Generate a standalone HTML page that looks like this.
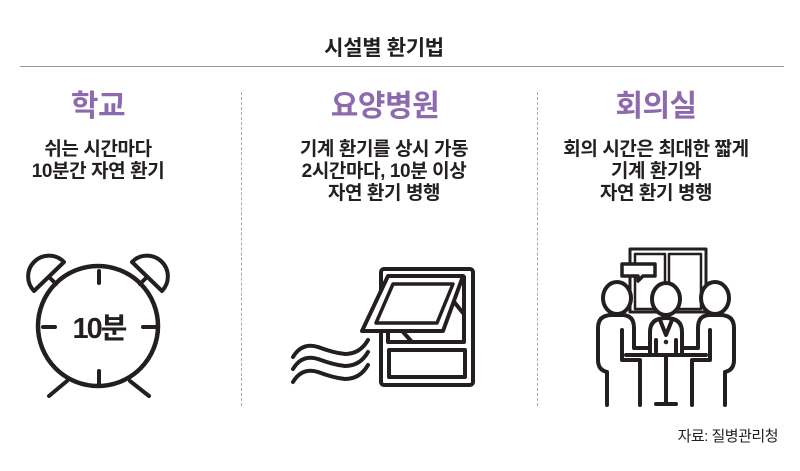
<!DOCTYPE html>
<html><head><meta charset="utf-8"><style>
body{margin:0;width:800px;height:471px;background:#fff;position:relative;overflow:hidden;font-family:"Liberation Sans","Noto Sans CJK KR",sans-serif;color:#231f20}
.t{position:absolute;text-align:center;white-space:nowrap;transform:translateX(-50%)}
.h{font-size:30px;font-weight:bold;color:#8d6aae;letter-spacing:-0.5px;line-height:32px}
.b{font-size:19px;font-weight:bold;line-height:22px;letter-spacing:-0.4px}
</style></head><body>
<div class="t" style="left:384px;top:32px;font-size:21px;font-weight:bold;letter-spacing:-0.3px">시설별 환기법</div>
<div style="position:absolute;left:20px;top:66px;width:764px;height:1px;background:#999"></div>
<div style="position:absolute;left:241px;top:92px;height:314px;border-left:1px dashed #aaa"></div>
<div style="position:absolute;left:537px;top:92px;height:314px;border-left:1px dashed #aaa"></div>
<div class="t h" style="left:98px;top:91px">학교</div>
<div class="t h" style="left:385px;top:91px">요양병원</div>
<div class="t h" style="left:656px;top:91px">회의실</div>
<div class="t b" style="left:98px;top:139px">쉬는 시간마다<br>10분간 자연 환기</div>
<div class="t b" style="left:384px;top:139px">기계 환기를 상시 가동<br>2시간마다, 10분 이상<br>자연 환기 병행</div>
<div class="t b" style="left:656px;top:139px">회의 시간은 최대한 짧게<br>기계 환기와<br>자연 환기 병행</div>
<div style="position:absolute;right:22px;top:425px;font-size:15px;letter-spacing:-0.5px">자료: 질병관리청</div>
<svg width="800" height="471" style="position:absolute;left:0;top:0" fill="none" stroke="#231f20" stroke-width="4" stroke-linecap="round" stroke-linejoin="round">
<circle cx="98" cy="326" r="60" stroke-width="4.5"/>
<path d="M34 291 A20 20 0 0 1 64 262 Z"/>
<path d="M162 291 A20 20 0 0 0 132 262 Z"/>
<line x1="50" y1="278" x2="56" y2="284"/><line x1="146" y1="278" x2="140" y2="284"/>
<line x1="99" y1="271" x2="99" y2="283"/><line x1="99" y1="371" x2="99" y2="384"/>
<line x1="43" y1="327" x2="55" y2="327"/><line x1="143" y1="327" x2="156" y2="327"/>
<line x1="67" y1="381" x2="49" y2="396"/><line x1="130" y1="381" x2="149" y2="396"/>
<text x="99" y="338" text-anchor="middle" font-family="Liberation Sans,Noto Sans CJK KR,sans-serif" font-weight="bold" font-size="29" letter-spacing="-2" fill="#231f20" stroke="none">10분</text>
<rect x="381" y="269" width="92" height="116" rx="3"/>
<path d="M388 277 H464 V342 H388 V330"/>
<path d="M388 276 H463 L443 331 H362 Z" fill="#fff"/>
<path d="M393 284 H453 L437 323 H376 Z" stroke-width="3.5"/>
<line x1="403" y1="332" x2="412" y2="342"/><line x1="455" y1="303" x2="463" y2="313"/>
<rect x="389" y="350" width="76" height="27"/>
<path d="M293 357 Q302 342 318 347 Q334 353 345 354 Q360 354 368 340"/>
<path d="M293 369 Q302 354 318 359 Q334 365 345 366 Q360 366 368 352"/>
<path d="M293 382 Q302 367 318 372 Q334 378 345 379 Q360 379 368 365"/>
<rect x="630" y="249" width="76" height="63" stroke-width="3"/>
<rect x="635" y="254" width="30" height="55" stroke-width="2.5"/>
<rect x="669" y="254" width="32" height="55" stroke-width="2.5"/>
<path d="M622 264 H655 V276 H643 L638 281 V276 H622 Z" fill="#fff" stroke-width="3.5"/>
<ellipse cx="617" cy="298" rx="14" ry="16" fill="#fff"/>
<ellipse cx="666" cy="299" rx="14" ry="16" fill="#fff"/>
<ellipse cx="715" cy="298" rx="14" ry="16" fill="#fff"/>
<path d="M607 405 V372 Q598 370 598 360 V328 Q598 315 612 315 H622 Q634 315 634 328 V348 H648 M622 330 V360 H640 V405"/>
<path d="M725 405 V372 Q734 370 734 360 V328 Q734 315 720 315 H710 Q698 315 698 328 V348 H684 M710 330 V360 H692 V405"/>
<path d="M650 354 V332 Q650 318 666 318 Q682 318 682 332 V354 M660 320 L666 335 L672 320 M656 340 V352 M676 340 V352"/>
<circle cx="666" cy="342" r="1" stroke-width="2.5"/>
<line x1="626" y1="355" x2="706" y2="355"/>
<line x1="666" y1="357" x2="666" y2="403"/><line x1="656" y1="404" x2="676" y2="404"/>
</svg>
</body></html>
